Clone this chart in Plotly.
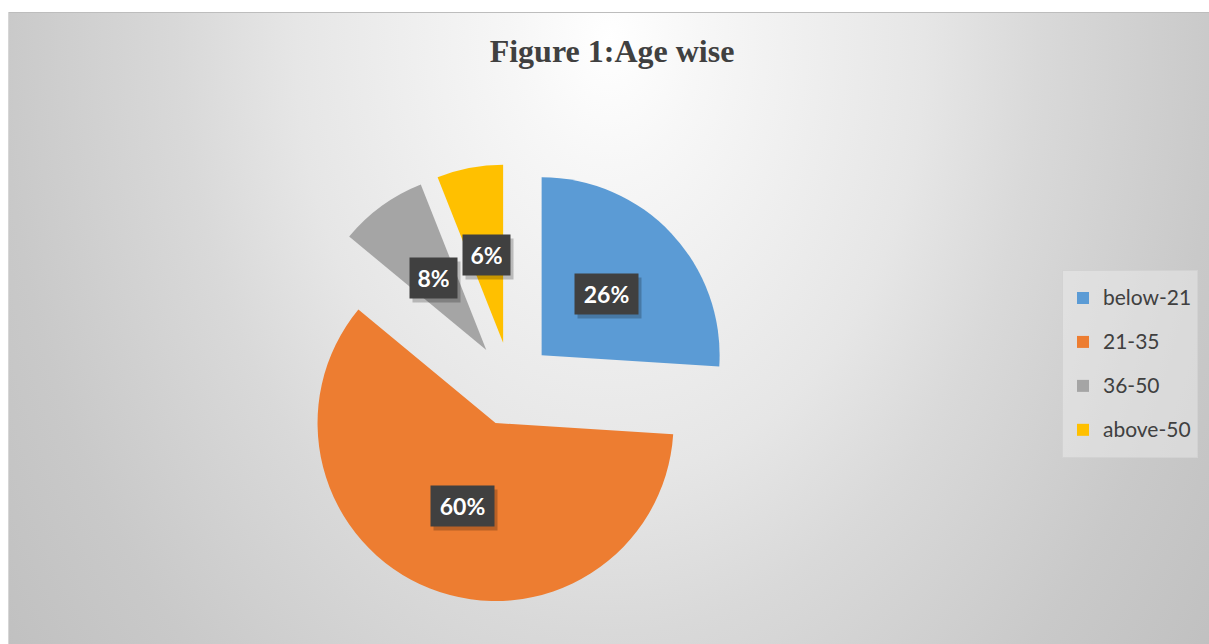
import base64
import math
import plotly.graph_objects as go

# ---- data ----
labels = ["below-21", "21-35", "36-50", "above-50"]
values = [26, 60, 8, 6]
colors = ["#5B9BD5", "#ED7D31", "#A5A5A5", "#FFC000"]
title_text = "Figure 1:Age wise"

# ---- canvas / layout constants ----
W, H = 1209, 644
PIE_CX, PIE_CY = 511, 384      # pie centre (px)
PIE_R = 178                    # slice radius (px)
PULL = 0.236                   # explode fraction of radius
HALF = PIE_R * (1 + PULL)      # plotly fits r*(1+pull) into the domain

dom_x = [(PIE_CX - HALF) / W, (PIE_CX + HALF) / W]
dom_y = [1 - (PIE_CY + HALF) / H, 1 - (PIE_CY - HALF) / H]

# ---- radial-gradient chart area drawn as an svg background ----
svg = f"""<svg xmlns='http://www.w3.org/2000/svg' width='{W}' height='{H}' viewBox='0 0 {W} {H}'>
<defs>
<radialGradient id='g' gradientUnits='userSpaceOnUse' cx='610' cy='40' r='750'
 gradientTransform='translate(610,40) scale(1,1.385) translate(-610,-40)'>
<stop offset='0' stop-color='#ffffff'/>
<stop offset='0.12' stop-color='#f7f7f7'/>
<stop offset='0.42' stop-color='#e6e6e6'/>
<stop offset='0.57' stop-color='#d9d9d9'/>
<stop offset='0.81' stop-color='#c9c9c9'/>
<stop offset='1' stop-color='#c0c0c0'/>
</radialGradient>
</defs>
<rect x='0' y='0' width='{W}' height='{H}' fill='#ffffff'/>
<rect x='8' y='12' width='{W - 8}' height='{H - 12}' fill='url(#g)'/>
<line x1='8' y1='12.5' x2='{W}' y2='12.5' stroke='#bdbdbd' stroke-width='1'/>
<line x1='8.5' y1='12' x2='8.5' y2='{H}' stroke='#d6d6d6' stroke-width='1'/>
</svg>"""
bg_src = "data:image/svg+xml;base64," + base64.b64encode(svg.encode()).decode()

fig = go.Figure()
fig.add_trace(go.Pie(
    labels=[f'<span style="font-size:21px;baseline-shift:5px">{t}</span>' for t in labels],
    values=values,
    sort=False,
    direction="clockwise",
    rotation=0,
    pull=[PULL] * len(values),
    marker=dict(colors=colors, line=dict(width=0)),
    textinfo="none",
    hovertext=labels,
    hoverinfo="text+percent",
    domain=dict(x=dom_x, y=dom_y),
))

# ---- percentage labels in dark boxes, placed at each exploded slice's middle ----
total = sum(values)
annotations = []
cum = 0.0
for v in values:
    mid = (cum + v / 2) / total * 2 * math.pi   # clockwise from 12 o'clock
    cum += v
    dist = (PULL + 0.5) * PIE_R
    px = PIE_CX + dist * math.sin(mid)
    py = PIE_CY - dist * math.cos(mid)
    txt = f"{round(v / total * 100)}%"
    box_w = 16 * len(txt) - 1
    common = dict(x=px / W, y=1 - py / H, xref="paper", yref="paper",
                  showarrow=False, borderpad=8, height=24, width=box_w,
                  xanchor="center", yanchor="middle")
    # soft drop shadow behind the box
    annotations.append(dict(common, text="&nbsp;", xshift=3, yshift=-4,
                            bgcolor="rgba(0,0,0,0.22)",
                            font=dict(family="Lato", size=23)))
    annotations.append(dict(common, text=txt, bgcolor="#404040",
                            font=dict(family="Lato", size=23, color="#ffffff",
                                      weight="bold")))

fig.update_layout(
    width=W, height=H,
    margin=dict(l=0, r=0, t=0, b=0),
    paper_bgcolor="#ffffff",
    plot_bgcolor="rgba(0,0,0,0)",
    images=[dict(source=bg_src, xref="paper", yref="paper", x=0, y=1,
                 sizex=1, sizey=1, xanchor="left", yanchor="top",
                 sizing="stretch", layer="below")],
    title=dict(text=f"<b>{title_text}</b>", x=612 / W, xanchor="center",
               y=1 - 51 / H, yanchor="middle",
               font=dict(family="Liberation Serif", size=32, color="#404040")),
    legend=dict(x=1062 / W, y=1 - 270 / H, xanchor="left", yanchor="top",
                bgcolor="rgba(240,240,240,0.45)", bordercolor="#d2d2d2",
                borderwidth=1,
                font=dict(family="Lato", size=31.5, color="#404040")),
    annotations=annotations,
    showlegend=True,
)

fig.write_html("out.html")
